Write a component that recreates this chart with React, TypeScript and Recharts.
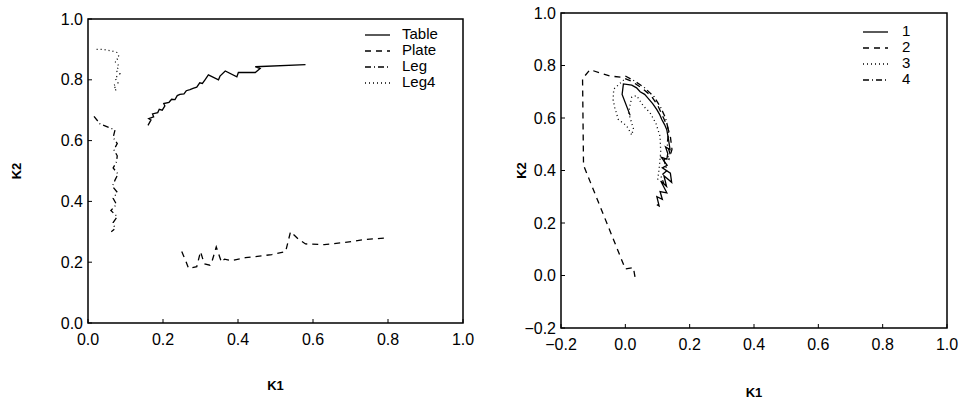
import React from "react";
import { LineChart, Line, XAxis, YAxis, ReferenceArea } from "recharts";

// left panel: K1 / K2 trajectories per object class
const tablePts = [
  [0.16, 0.65], [0.168, 0.668], [0.162, 0.672], [0.175, 0.678], [0.172, 0.688], [0.186, 0.692],
  [0.19, 0.703], [0.198, 0.7], [0.205, 0.714], [0.202, 0.722], [0.216, 0.726], [0.223, 0.736],
  [0.232, 0.735], [0.238, 0.748], [0.245, 0.752], [0.256, 0.754], [0.262, 0.764], [0.272, 0.768],
  [0.28, 0.772], [0.29, 0.776], [0.298, 0.79], [0.305, 0.788], [0.312, 0.8], [0.321, 0.816],
  [0.348, 0.8], [0.352, 0.812], [0.366, 0.829], [0.397, 0.81], [0.401, 0.824], [0.446, 0.824],
  [0.459, 0.837], [0.446, 0.843], [0.58, 0.85],
];
const platePts = [
  [0.25, 0.235], [0.262, 0.2], [0.268, 0.18], [0.29, 0.185], [0.3, 0.235], [0.31, 0.195],
  [0.325, 0.19], [0.33, 0.2], [0.342, 0.25], [0.356, 0.2], [0.364, 0.21], [0.382, 0.205],
  [0.42, 0.215], [0.457, 0.22], [0.49, 0.225], [0.527, 0.235], [0.54, 0.3], [0.562, 0.275],
  [0.58, 0.26], [0.63, 0.258], [0.686, 0.265], [0.74, 0.275], [0.8, 0.28],
];
const legPts = [
  [0.016, 0.68], [0.032, 0.655], [0.072, 0.635], [0.067, 0.61], [0.078, 0.59], [0.069, 0.57],
  [0.078, 0.55], [0.076, 0.53], [0.067, 0.51], [0.08, 0.49], [0.072, 0.47], [0.065, 0.45],
  [0.078, 0.43], [0.067, 0.41], [0.076, 0.39], [0.061, 0.37], [0.078, 0.35], [0.067, 0.33],
  [0.072, 0.31], [0.062, 0.3],
];
const leg4Pts = [
  [0.023, 0.9], [0.04, 0.9], [0.063, 0.895], [0.077, 0.89], [0.083, 0.875], [0.072, 0.86],
  [0.083, 0.845], [0.075, 0.83], [0.085, 0.82], [0.072, 0.805], [0.08, 0.79], [0.067, 0.78],
  [0.077, 0.77], [0.068, 0.76],
];

// right panel: runs 1-4
const run1 = [
  [0.015, 0.61], [-0.01, 0.69], [-0.006, 0.73], [0.02, 0.725], [0.035, 0.715], [0.046, 0.7],
  [0.06, 0.69], [0.071, 0.675], [0.085, 0.655], [0.098, 0.632], [0.106, 0.615], [0.113, 0.595],
  [0.122, 0.575], [0.129, 0.555], [0.134, 0.52], [0.139, 0.48], [0.125, 0.49], [0.132, 0.465],
  [0.129, 0.443], [0.112, 0.45], [0.13, 0.42], [0.115, 0.41], [0.14, 0.39], [0.144, 0.355],
  [0.12, 0.38], [0.128, 0.34], [0.11, 0.36], [0.129, 0.315], [0.108, 0.32], [0.115, 0.29],
  [0.098, 0.3], [0.105, 0.265], [0.098, 0.27],
];
const run2 = [
  [0.03, -0.005], [0.025, 0.03], [0.0, 0.025], [-0.13, 0.42], [-0.133, 0.75], [-0.11, 0.784],
  [-0.048, 0.76], [-0.01, 0.755], [0.02, 0.74], [0.05, 0.715], [0.08, 0.685], [0.1, 0.65],
  [0.115, 0.61], [0.13, 0.57], [0.14, 0.53], [0.145, 0.48], [0.135, 0.44],
];
const run3 = [
  [-0.005, 0.745], [-0.036, 0.71], [-0.038, 0.67], [-0.033, 0.64], [-0.022, 0.595], [0.004, 0.57],
  [0.02, 0.535], [0.025, 0.56], [0.01, 0.62], [0.02, 0.68], [0.035, 0.685], [0.056, 0.646],
  [0.077, 0.62], [0.095, 0.58], [0.108, 0.53], [0.11, 0.47], [0.105, 0.405], [0.1, 0.36],
];
const run4 = [
  [0.0, 0.76], [0.03, 0.74], [0.06, 0.715], [0.09, 0.68], [0.11, 0.64], [0.125, 0.6],
  [0.135, 0.55], [0.13, 0.5], [0.14, 0.46], [0.12, 0.44], [0.13, 0.4], [0.11, 0.38], [0.12, 0.35],
];

const leftTicksX = [0, 0.2, 0.4, 0.6, 0.8, 1.0];
const leftTicksY = [0, 0.2, 0.4, 0.6, 0.8, 1.0];
const rightTicksX = [-0.2, 0, 0.2, 0.4, 0.6, 0.8, 1.0];
const rightTicksY = [-0.2, 0, 0.2, 0.4, 0.6, 0.8, 1.0];

const SOLID = undefined;
const DASH = "6 5";
const DOT = "1 3";
const DASHDOT = "6 3 1 3";

const leftSeries = [
  { name: "Table", pts: tablePts, dash: SOLID },
  { name: "Plate", pts: platePts, dash: DASH },
  { name: "Leg", pts: legPts, dash: DASHDOT },
  { name: "Leg4", pts: leg4Pts, dash: DOT },
];
const rightSeries = [
  { name: "1", pts: run1, dash: SOLID },
  { name: "2", pts: run2, dash: DASH },
  { name: "3", pts: run3, dash: DOT },
  { name: "4", pts: run4, dash: DASHDOT },
];

const FONT = "'Liberation Sans', Arial, Helvetica, sans-serif";
const fmt = (v: number) => (v < 0 ? "\u2212" + Math.abs(v).toFixed(1) : v.toFixed(1));
const toXY = (pts: number[][]) => pts.map(([x, y]) => ({ x, y }));
const tickStyle = { fontSize: 16, fill: "#000", fontFamily: FONT };

function xTitle(dy: number) {
  return (props: any) => {
    const vb = props.viewBox;
    return (
      <text x={vb.x + vb.width / 2} y={vb.y + dy} textAnchor="middle" dominantBaseline="middle"
        fontFamily={FONT} fontWeight="bold" fontSize={13} fill="#000">K1</text>
    );
  };
}
function yTitle(dx: number) {
  return (props: any) => {
    const vb = props.viewBox;
    const cx = vb.x + dx;
    const cy = vb.y + vb.height / 2;
    return (
      <text x={cx} y={cy} textAnchor="middle" dominantBaseline="middle" transform={`rotate(-90 ${cx} ${cy})`}
        fontFamily={FONT} fontWeight="bold" fontSize={13} fill="#000">K2</text>
    );
  };
}

function Panel(props: {
  series: { name: string; pts: number[][]; dash?: string }[];
  width: number; height: number; margin: any; yWidth: number; xHeight: number;
  dom: [number, number]; ticksX: number[]; ticksY: number[]; xTitleDy: number; yTitleDx: number;
}) {
  const { series, dom } = props;
  const yMin = dom[0] < 0 ? dom[0] : 0;
  return (
    <LineChart width={props.width} height={props.height} margin={props.margin}>
      <XAxis type="number" dataKey="x" domain={dom} ticks={props.ticksX} tickFormatter={fmt}
        allowDataOverflow axisLine={false} tickSize={-4} tickMargin={15} tick={tickStyle}
        tickLine={{ stroke: "#000", strokeWidth: 1 }} height={props.xHeight} interval={0}
        label={{ content: xTitle(props.xTitleDy) }} />
      <YAxis type="number" dataKey="y" domain={[yMin, 1]} ticks={props.ticksY}
        tickFormatter={fmt} allowDataOverflow axisLine={false} tickSize={-4} tickMargin={9} tick={tickStyle}
        tickLine={{ stroke: "#000", strokeWidth: 1 }} width={props.yWidth} interval={0}
        label={{ content: yTitle(props.yTitleDx) }} />
      <ReferenceArea x1={dom[0]} x2={dom[1]} y1={yMin} y2={1}
        fill="none" fillOpacity={0} stroke="#000" strokeWidth={1.5} />
      {series.map((s) => (
        <Line key={s.name} data={toXY(s.pts)} dataKey="y" name={s.name} type="linear" stroke="#000"
          strokeWidth={1.3} strokeDasharray={s.dash} dot={false} activeDot={false}
          isAnimationActive={false} />
      ))}
    </LineChart>
  );
}

function LegendBox(props: { series: { name: string; dash?: string }[]; left: number; top: number; lineW: number; gap: number }) {
  const rowH = 16;
  return (
    <svg width={100} height={props.series.length * rowH + 6}
      style={{ position: "absolute", left: props.left, top: props.top }}>
      {props.series.map((s, i) => {
        const y = i * rowH + 9;
        return (
          <g key={s.name}>
            <line x1={0} x2={props.lineW} y1={y} y2={y} stroke="#000" strokeWidth={1.3} strokeDasharray={s.dash} />
            <text x={props.lineW + props.gap} y={y} dominantBaseline="middle" fontFamily={FONT} fontSize={15} fill="#000">
              {s.name}
            </text>
          </g>
        );
      })}
    </svg>
  );
}

export default function App() {
  return (
    <div style={{ position: "absolute", left: 0, top: 0, width: 960, height: 407, background: "#fff", overflow: "hidden" }}>
      <div style={{ position: "absolute", left: 0, top: 0 }}>
        <Panel series={leftSeries} width={480} height={407} margin={{ top: 19, right: 17, bottom: 0, left: 0 }}
          yWidth={88} xHeight={84} dom={[0, 1]} ticksX={leftTicksX} ticksY={leftTicksY} xTitleDy={64} yTitleDx={18} />
      </div>
      <div style={{ position: "absolute", left: 470, top: 0 }}>
        <Panel series={rightSeries} width={490} height={407} margin={{ top: 13, right: 13, bottom: 0, left: 0 }}
          yWidth={91} xHeight={79} dom={[-0.2, 1]} ticksX={rightTicksX} ticksY={rightTicksY} xTitleDy={66} yTitleDx={53} />
      </div>
      <LegendBox series={leftSeries} left={365} top={26} lineW={25} gap={12} />
      <LegendBox series={rightSeries} left={863} top={23} lineW={25} gap={14} />
    </div>
  );
}
